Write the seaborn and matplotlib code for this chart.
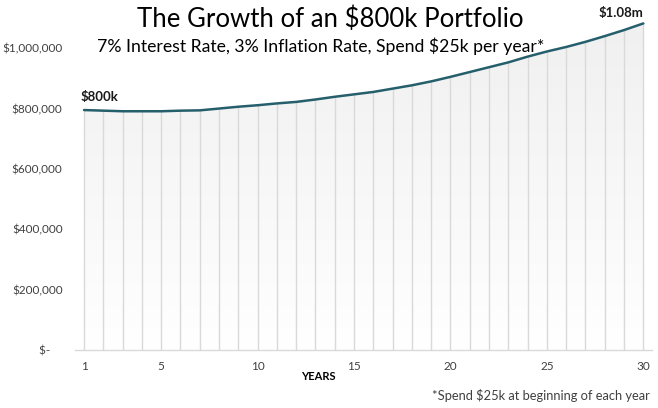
import numpy as np
import matplotlib
matplotlib.use("Agg")
import matplotlib.pyplot as plt
import seaborn as sns
from matplotlib.ticker import FuncFormatter
from matplotlib.colors import LinearSegmentedColormap

sns.set_theme(style="white")
plt.rcParams['font.family'] = ['Lato', 'DejaVu Sans']

# portfolio value at each year
years = list(range(1, 31))
balance = [795000, 793000, 791000, 791000, 791000, 793000, 794000, 800000, 806000, 811000,
           817000, 822000, 830000, 839000, 847000, 855000, 866000, 877000, 890000, 905000,
           921000, 937000, 953000, 972000, 989000, 1004000, 1021000, 1040000, 1060000, 1082000]
xtick_vals = [1, 5, 10, 15, 20, 25, 30]
ytick_vals = [0, 200000, 400000, 600000, 800000, 1000000]
start_label = "$800k"
end_label = "$1.08m"

line_col = '#255f6c'
grid_col = '#d9d9d9'

fig = plt.figure(figsize=(6.58, 4.08), dpi=100)
ax = fig.add_axes([75/658, 58/408, 577/658, 332/408])

# gradient fill under the line
fill = ax.fill_between(years, balance, 0, color='none', lw=0)
grad = np.linspace(1, 0, 256).reshape(-1, 1)
cmap = LinearSegmentedColormap.from_list('g', ['#f0f0f0', '#ffffff'])
img = ax.imshow(grad, aspect='auto', cmap=cmap, extent=[years[0], years[-1], 0, max(balance)],
                origin='lower', zorder=0)
img.set_clip_path(fill.get_paths()[0], transform=ax.transData)

# drop lines
ax.vlines(years, 0, balance, color=grid_col, lw=1, zorder=1)

sns.lineplot(x=years, y=balance, color=line_col, lw=1.8, ax=ax, zorder=3)

ax.set_xlim(0.53, 30.45)
ax.set_ylim(0, 1100000)
ax.set_xticks(xtick_vals)
ax.set_yticks(ytick_vals)
ax.yaxis.set_major_formatter(FuncFormatter(lambda v, p: '$-    ' if v == 0 else f'${v:,.0f}'))
ax.tick_params(axis='both', length=0, labelsize=8.5, colors='#404040')
ax.tick_params(axis='x', pad=8)
ax.tick_params(axis='y', pad=9)

for s in ['top', 'right', 'left']:
    ax.spines[s].set_visible(False)
ax.spines['bottom'].set_color(grid_col)
ax.spines['bottom'].set_linewidth(1)
ax.set_xlabel('')
ax.set_ylabel('')

ax.text(years[0] - 0.2, balance[0] + 25000, start_label, fontsize=9.5, fontweight='bold',
        color='#1a1a1a', ha='left', va='bottom')
ax.text(years[-1], balance[-1] + 15000, end_label, fontsize=9.5, fontweight='bold',
        color='#1a1a1a', ha='right', va='bottom')

fig.text(330/658, 1 - 19/408, 'The Growth of an $800k Portfolio', ha='center', va='center',
         fontsize=18.5, color='black')
fig.text(321/658, 1 - 46/408, '7% Interest Rate, 3% Inflation Rate, Spend $25k per year*',
         ha='center', va='center', fontsize=12.7, color='black')
fig.text(318/658, 1 - 377/408, 'YEARS', ha='center', va='center', fontsize=8,
         fontweight='bold', color='black')
fig.text(650/658, 1 - 396/408, '*Spend $25k at beginning of each year', ha='right',
         va='center', fontsize=9.3, color='#404040')

fig.savefig('out.png', dpi=100, facecolor='white')
